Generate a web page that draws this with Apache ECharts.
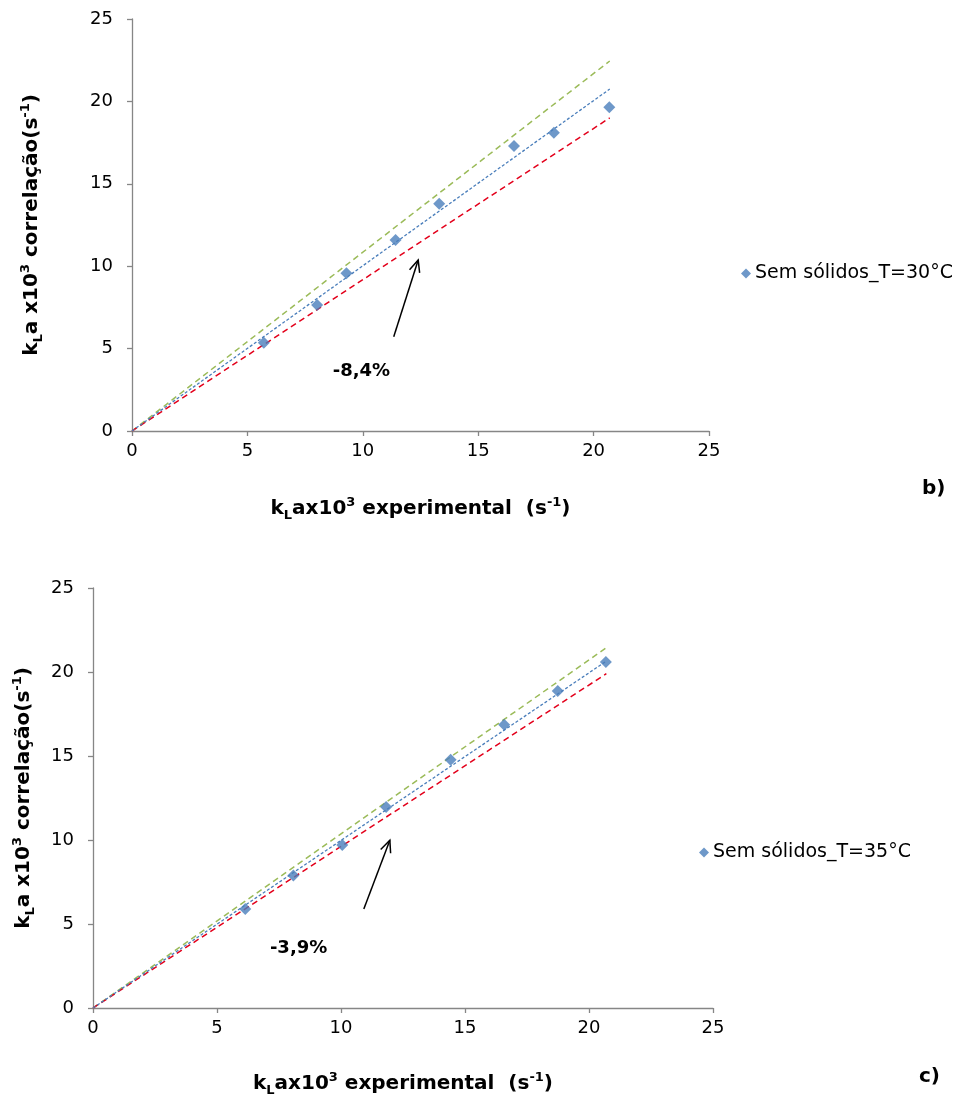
<!DOCTYPE html>
<html><head><meta charset="utf-8">
<script src="https://cdn.jsdelivr.net/npm/echarts@6/dist/echarts.min.js"></script>
<style>html,body{margin:0;padding:0;background:#fff}#c{width:978px;height:1104px}</style>
</head><body><div id="c"></div>
<script>
// ---- data ----
const axisTicks = [0, 5, 10, 15, 20, 25];
const seriesNameB = 'Sem sólidos_T=30°C';
const seriesNameC = 'Sem sólidos_T=35°C';
const expB = [5.71, 8.02, 9.29, 11.42, 13.31, 16.55, 18.28, 20.68];
const corB = [5.36, 7.65, 9.57, 11.59, 13.79, 17.29, 18.10, 19.64];
const expC = [6.14, 8.08, 10.05, 11.82, 14.42, 16.58, 18.74, 20.68];
const corC = [5.89, 7.89, 9.70, 11.96, 14.78, 16.86, 18.87, 20.60];
// reference lines (start / end)
const lineXB = [0, 20.7];
const upperB = [0, 22.45];
const trendB = [0, 20.75];
const lowerB = [0, 19.0];
const lineXC = [0, 20.7];
const upperC = [0, 21.45];
const trendC = [0, 20.65];
const lowerC = [0, 19.9];
// annotations (data coordinates)
const arrowB = [11.34, 5.72, 12.40, 10.38];
const arrowC = [10.92, 5.89, 11.97, 9.98];
const noteB = [9.94, 3.6, '-8,4%'];
const noteC = [8.29, 3.57, '-3,9%'];
const panelLabels = ['b)', 'c)'];

// ---- chart ----
const FONT = 'DejaVu Sans';
const zip = (a, b) => a.map((v, i) => [v, b[i]]);
const chart = echarts.init(document.getElementById('c'), null, {renderer: 'canvas'});

const rich = {
  b: {fontFamily: FONT, fontSize: 20, fontWeight: 'bold', color: '#000', lineHeight: 26, verticalAlign: 'middle'},
  sub: {fontFamily: FONT, fontSize: 13, fontWeight: 'bold', color: '#000', lineHeight: 26, verticalAlign: 'bottom'},
  sup: {fontFamily: FONT, fontSize: 13, fontWeight: 'bold', color: '#000', lineHeight: 26, verticalAlign: 'top'}
};
const axisLineStyle = {lineStyle: {color: '#868686', width: 1.3}};
function xAxis(gi) {
  return {
    type: 'value', gridIndex: gi, min: axisTicks[0], max: axisTicks[axisTicks.length - 1], interval: 5,
    axisLine: {show: true, ...axisLineStyle}, axisTick: {show: true, length: 5, ...axisLineStyle},
    splitLine: {show: false},
    axisLabel: {fontFamily: FONT, fontSize: 18, color: '#000', margin: 11},
    name: '{b|k}{sub|L}{b|ax10}{sup|3}{b| experimental  (s}{sup|-1}{b|)}',
    nameLocation: 'middle', nameGap: gi === 0 ? 65 : 63,
    nameTextStyle: {rich: rich}
  };
}
function yAxis(gi) {
  return {
    type: 'value', gridIndex: gi, min: axisTicks[0], max: axisTicks[axisTicks.length - 1], interval: 5,
    axisLine: {show: true, ...axisLineStyle}, axisTick: {show: true, length: 5, ...axisLineStyle},
    splitLine: {show: false},
    axisLabel: {fontFamily: FONT, fontSize: 18, color: '#000', margin: 19},
    name: '{b|k}{sub|L}{b|a x10}{sup|3}{b| correlação(s}{sup|-1}{b|)}',
    nameLocation: 'middle', nameRotate: 90, nameGap: gi === 0 ? 87 : 56,
    nameTextStyle: {rich: rich}
  };
}

function refLine(name, xs, ys, gi, color, dash, width) {
  return {
    name: name, type: 'line', xAxisIndex: gi, yAxisIndex: gi, data: zip(xs, ys),
    symbol: 'none', silent: true, z: 2,
    lineStyle: {color: color, type: dash, width: width}
  };
}
function arrowSeries(arr, gi) {
  return {
    type: 'custom', xAxisIndex: gi, yAxisIndex: gi, silent: true, z: 5,
    data: [arr], encode: {x: [0, 2], y: [1, 3]},
    renderItem: function (params, api) {
      const p1 = api.coord([api.value(0), api.value(1)]);
      const p2 = api.coord([api.value(2), api.value(3)]);
      const ang = Math.atan2(p2[1] - p1[1], p2[0] - p1[0]);
      const L = 13, a = 0.42;
      const h1 = [p2[0] - L * Math.cos(ang - a), p2[1] - L * Math.sin(ang - a)];
      const h2 = [p2[0] - L * Math.cos(ang + a), p2[1] - L * Math.sin(ang + a)];
      return {type: 'group', children: [
        {type: 'line', shape: {x1: p1[0], y1: p1[1], x2: p2[0], y2: p2[1]}, style: {stroke: '#000', lineWidth: 1.5}},
        {type: 'polyline', shape: {points: [h1, p2, h2]}, style: {stroke: '#000', lineWidth: 1.5, fill: null}}
      ]};
    }
  };
}
function noteSeries(note, gi) {
  return {
    type: 'custom', xAxisIndex: gi, yAxisIndex: gi, silent: true, z: 5,
    data: [[note[0], note[1]]],
    renderItem: function (params, api) {
      const p = api.coord([api.value(0), api.value(1)]);
      return {type: 'text', x: p[0], y: p[1], style: {text: note[2], fill: '#000', font: 'bold 18px "' + FONT + '"', align: 'center', verticalAlign: 'middle'}};
    }
  };
}
function scatter(name, xs, ys, gi) {
  return {
    name: name, type: 'scatter', xAxisIndex: gi, yAxisIndex: gi, data: zip(xs, ys),
    symbol: 'diamond', symbolSize: 12, z: 4,
    itemStyle: {color: '#4a7ebb'}
  };
}

const option = {
  animation: false,
  backgroundColor: '#fff',
  grid: [
    {left: 132, right: 269, top: 19, bottom: 673, containLabel: false, outerBoundsMode: 'none'},
    {left: 93, right: 265, top: 588, bottom: 96, containLabel: false, outerBoundsMode: 'none'}
  ],
  xAxis: [xAxis(0), xAxis(1)],
  yAxis: [yAxis(0), yAxis(1)],
  legend: [
    {data: [seriesNameB], left: 736, top: 259, itemWidth: 10, itemHeight: 10, itemGap: 0,
     textStyle: {fontFamily: FONT, fontSize: 19, color: '#000', padding: [0, 0, 0, -1]}, selectedMode: false},
    {data: [seriesNameC], left: 694, top: 838, itemWidth: 10, itemHeight: 10, itemGap: 0,
     textStyle: {fontFamily: FONT, fontSize: 19, color: '#000', padding: [0, 0, 0, -1]}, selectedMode: false}
  ],
  graphic: [
    {type: 'text', left: 922, top: 479, style: {text: panelLabels[0], font: 'bold 20px "' + FONT + '"', fill: '#000'}},
    {type: 'text', left: 919, top: 1067, style: {text: panelLabels[1], font: 'bold 20px "' + FONT + '"', fill: '#000'}}
  ],
  series: [
    refLine('upperB', lineXB, upperB, 0, '#9bbb59', [6, 4], 1.5),
    refLine('lowerB', lineXB, lowerB, 0, '#e3001b', [6, 4], 1.5),
    refLine('trendB', lineXB, trendB, 0, '#4a7ebb', [3, 2], 1.3),
    scatter(seriesNameB, expB, corB, 0),
    arrowSeries(arrowB, 0),
    noteSeries(noteB, 0),
    refLine('upperC', lineXC, upperC, 1, '#9bbb59', [6, 4], 1.5),
    refLine('lowerC', lineXC, lowerC, 1, '#e3001b', [6, 4], 1.5),
    refLine('trendC', lineXC, trendC, 1, '#4a7ebb', [3, 2], 1.3),
    scatter(seriesNameC, expC, corC, 1),
    arrowSeries(arrowC, 1),
    noteSeries(noteC, 1)
  ]
};
chart.setOption(option);
</script>
</body></html>
